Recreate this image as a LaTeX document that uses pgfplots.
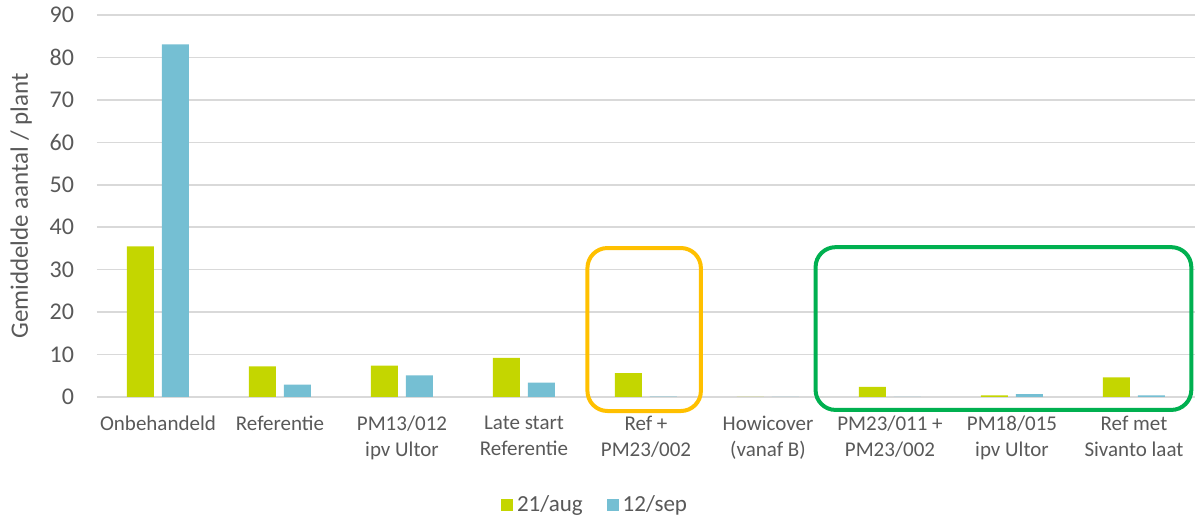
\documentclass[border=0pt]{standalone}
\usepackage{fontspec}
\setmainfont{Carlito}
\usepackage{pgfplots}
\pgfplotsset{compat=1.18}
\definecolor{cgreen}{HTML}{C4D600}
\definecolor{cblue}{HTML}{75BFD3}
\definecolor{ctext}{HTML}{595959}
\definecolor{cgrid}{HTML}{D9D9D9}
\definecolor{corange}{HTML}{FFC000}
\definecolor{cbox}{HTML}{00B050}
\begin{document}
\begin{tikzpicture}
\begin{axis}[
  scale only axis,
  width=549pt, height=191pt,
  ybar=4pt, bar width=13.5pt,
  xmin=-0.5, xmax=8.5,
  ymin=0, ymax=90,
  ytick={0,10,...,90},
  xtick={0,...,8},
  xticklabels={Onbehandeld,Referentie,PM13/012\\ipv Ultor,Late start\\Referentie,Ref +\\PM23/002,Howicover\\(vanaf B),PM23/011 +\\PM23/002,PM18/015\\ipv Ultor,Ref met\\Sivanto laat},
  xticklabel style={align=center, font=\fontsize{10.5}{13}\selectfont, text=ctext, yshift=-6pt},
  yticklabel style={font=\fontsize{12}{14}\selectfont, text=ctext, xshift=-8pt},
  /pgf/number format/assume math mode=true,
  axis line style={draw=none},
  major tick length=0pt,
  ymajorgrids,
  grid style={cgrid, line width=0.8pt},
  ylabel={Gemiddelde aantal / plant},
  ylabel style={font=\fontsize{12.5}{14}\selectfont, text=ctext, yshift=2pt},
  clip=false,
  legend style={at={(0.4545,-0.283)}, anchor=center, draw=none, legend columns=2,
    font=\fontsize{11.5}{13}\selectfont, text=ctext,
    /tikz/every even column/.append style={column sep=10pt}},
  legend image code/.code={\fill[#1] (0pt,-3pt) rectangle (6pt,3pt);},
]
\addplot[fill=cgreen, draw=none] coordinates {
  (0,35.5)(1,7.2)(2,7.4)(3,9.2)(4,5.6)(5,0)(6,2.4)(7,0.4)(8,4.6)};
\addplot[fill=cblue, draw=none] coordinates {
  (0,83.1)(1,2.9)(2,5.1)(3,3.4)(4,0.1)(5,0)(6,0)(7,0.7)(8,0.4)};
\legend{21/aug,12/sep}
\draw[corange, line width=2pt, rounded corners=10pt] (axis cs:3.52,35.1) rectangle (axis cs:4.45,-3.3);
\draw[cbox, line width=2pt, rounded corners=10pt] (axis cs:5.39,35.3) rectangle (axis cs:8.47,-3.05);
\end{axis}
\pgfresetboundingbox
\path (-48.5pt,-60pt) rectangle (550pt,198.5pt);
\end{tikzpicture}
\end{document}
